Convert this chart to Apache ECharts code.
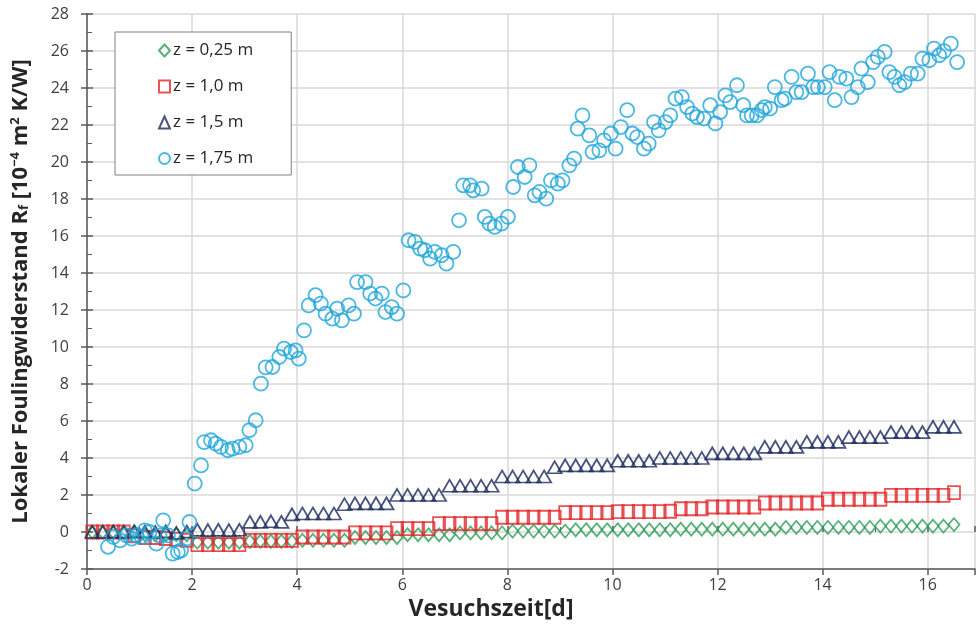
<!DOCTYPE html>
<html>
<head>
<meta charset="utf-8">
<script src="https://cdn.jsdelivr.net/npm/echarts@6/dist/echarts.min.js"></script>
<style>
  html, body { margin: 0; padding: 0; background: #fff; }
  #chart { width: 978px; height: 637px; }
</style>
</head>
<body>
<div id="chart"></div>
<script>
// Sampling times (days) shared by the three lower positions
const tDays = [
  0.1, 0.3, 0.5, 0.7, 0.9, 1.1, 1.3, 1.5, 1.7, 1.9,
  2.1, 2.3, 2.5, 2.7, 2.9, 3.1, 3.3, 3.5, 3.7, 3.9,
  4.1, 4.3, 4.5, 4.7, 4.9, 5.1, 5.3, 5.5, 5.7, 5.9,
  6.1, 6.3, 6.5, 6.7, 6.9, 7.1, 7.3, 7.5, 7.7, 7.9,
  8.1, 8.3, 8.5, 8.7, 8.9, 9.1, 9.3, 9.5, 9.7, 9.9,
  10.1, 10.3, 10.5, 10.7, 10.9, 11.1, 11.3, 11.5, 11.7, 11.9,
  12.1, 12.3, 12.5, 12.7, 12.9, 13.1, 13.3, 13.5, 13.7, 13.9,
  14.1, 14.3, 14.5, 14.7, 14.9, 15.1, 15.3, 15.5, 15.7, 15.9,
  16.1, 16.3, 16.5
];

// Rf at z = 0,25 m
const rf025 = [
  0.0, 0.0, 0.0, 0.0, 0.0, -0.15, -0.15, -0.15, -0.15, -0.15,
  -0.55, -0.55, -0.55, -0.55, -0.55, -0.5, -0.5, -0.5, -0.5, -0.5,
  -0.45, -0.45, -0.45, -0.45, -0.45, -0.3, -0.3, -0.3, -0.3, -0.3,
  -0.15, -0.15, -0.15, -0.15, -0.15, -0.05, -0.05, -0.05, -0.05, -0.05,
  0.05, 0.05, 0.05, 0.05, 0.05, 0.05, 0.12, 0.12, 0.12, 0.12,
  0.12, 0.12, 0.12, 0.12, 0.12, 0.12, 0.15, 0.15, 0.15, 0.15,
  0.15, 0.15, 0.15, 0.15, 0.15, 0.15, 0.25, 0.25, 0.25, 0.25,
  0.25, 0.25, 0.25, 0.25, 0.25, 0.32, 0.32, 0.32, 0.32, 0.32,
  0.32, 0.32, 0.4
];

// Rf at z = 1,0 m
const rf100 = [
  0.0, 0.0, 0.0, 0.0, -0.2, -0.3, -0.3, -0.35, -0.4, -0.45,
  -0.68, -0.68, -0.68, -0.68, -0.68, -0.45, -0.45, -0.45, -0.45, -0.45,
  -0.27, -0.27, -0.27, -0.27, -0.27, -0.05, -0.05, -0.05, -0.05, 0.18,
  0.18, 0.18, 0.18, 0.45, 0.45, 0.45, 0.45, 0.45, 0.45, 0.8,
  0.8, 0.8, 0.8, 0.8, 0.8, 1.05, 1.05, 1.05, 1.05, 1.05,
  1.1, 1.1, 1.1, 1.1, 1.1, 1.12, 1.26, 1.26, 1.26, 1.35,
  1.35, 1.35, 1.35, 1.35, 1.57, 1.57, 1.57, 1.57, 1.57, 1.57,
  1.77, 1.77, 1.77, 1.77, 1.77, 1.77, 1.98, 1.98, 1.98, 1.98,
  1.98, 1.98, 2.13
];

// Rf at z = 1,5 m
const rf150 = [
  0.0, 0.0, 0.02, 0.0, 0.03, 0.02, 0.0, 0.03, -0.05, 0.02,
  0.12, 0.1, 0.12, 0.1, 0.12, 0.55, 0.55, 0.58, 0.55, 0.95,
  1.0, 1.0, 1.0, 1.0, 1.5, 1.55, 1.55, 1.55, 1.55, 2.0,
  2.0, 2.0, 2.0, 2.0, 2.5, 2.5, 2.5, 2.5, 2.5, 3.0,
  3.0, 3.0, 3.0, 3.0, 3.5, 3.6, 3.6, 3.6, 3.6, 3.6,
  3.85, 3.85, 3.85, 3.85, 4.0, 4.0, 4.0, 4.0, 4.0, 4.25,
  4.25, 4.25, 4.25, 4.25, 4.6, 4.6, 4.6, 4.6, 4.87, 4.87,
  4.87, 4.87, 5.13, 5.13, 5.13, 5.13, 5.4, 5.4, 5.4, 5.4,
  5.68, 5.68, 5.68
];

// Rf at z = 1,75 m (own sampling times)
const t175 = [
  0.4, 0.5, 0.63, 0.75, 0.85, 0.94, 1.04, 1.1, 1.19, 1.32,
  1.38, 1.45, 1.54, 1.63, 1.73, 1.79, 1.89, 1.95, 2.05, 2.17,
  2.23, 2.36, 2.45, 2.55, 2.68, 2.77, 2.9, 3.02, 3.09, 3.21,
  3.31, 3.4, 3.53, 3.66, 3.75, 3.88, 3.97, 4.03, 4.13, 4.22,
  4.35, 4.45, 4.54, 4.67, 4.76, 4.85, 4.98, 5.08, 5.14, 5.3,
  5.39, 5.49, 5.61, 5.68, 5.8, 5.9, 6.02, 6.12, 6.24, 6.34,
  6.43, 6.53, 6.62, 6.75, 6.84, 6.97, 7.08, 7.16, 7.29, 7.35,
  7.51, 7.57, 7.66, 7.76, 7.89, 8.01, 8.11, 8.2, 8.33, 8.42,
  8.52, 8.61, 8.74, 8.83, 8.96, 9.05, 9.18, 9.27, 9.34, 9.43,
  9.56, 9.62, 9.75, 9.84, 9.97, 10.06, 10.16, 10.28, 10.38, 10.47,
  10.6, 10.69, 10.79, 10.88, 11.01, 11.1, 11.2, 11.32, 11.42, 11.52,
  11.61, 11.74, 11.86, 11.96, 12.05, 12.15, 12.24, 12.37, 12.49, 12.56,
  12.65, 12.75, 12.84, 12.9, 13.0, 13.09, 13.22, 13.28, 13.41, 13.5,
  13.6, 13.72, 13.82, 13.91, 14.04, 14.13, 14.23, 14.32, 14.45, 14.55,
  14.67, 14.74, 14.86, 14.96, 15.05, 15.18, 15.27, 15.37, 15.46, 15.56,
  15.68, 15.81, 15.9, 16.03, 16.12, 16.22, 16.31, 16.44, 16.56
];
const rf175 = [
  -0.8, -0.27, -0.45, -0.18, -0.36, -0.18, -0.27, 0.09, 0.0, -0.63,
  -0.18, 0.63, -0.18, -1.17, -1.08, -0.99, -0.36, 0.54, 2.62, 3.6,
  4.86, 4.96, 4.78, 4.6, 4.42, 4.51, 4.6, 4.69, 5.5, 6.04,
  8.02, 8.9, 8.92, 9.46, 9.91, 9.73, 9.82, 9.37, 10.9, 12.25,
  12.8, 12.35, 11.8, 11.53, 12.07, 11.44, 12.25, 11.8, 13.51, 13.51,
  12.89, 12.62, 12.89, 11.89, 12.16, 11.8, 13.06, 15.77, 15.68, 15.32,
  15.23, 14.78, 15.14, 14.96, 14.51, 15.14, 16.85, 18.74, 18.74, 18.47,
  18.56, 17.03, 16.67, 16.49, 16.67, 17.03, 18.65, 19.73, 19.19, 19.82,
  18.2, 18.38, 18.02, 19.01, 18.83, 19.01, 19.82, 20.18, 21.8, 22.52,
  21.44, 20.54, 20.63, 21.17, 21.54, 20.72, 21.89, 22.8, 21.54, 21.35,
  20.72, 20.99, 22.16, 21.71, 22.16, 22.52, 23.43, 23.51, 22.97, 22.62,
  22.43, 22.35, 23.07, 22.08, 22.7, 23.6, 23.24, 24.15, 23.07, 22.52,
  22.52, 22.52, 22.8, 22.97, 22.89, 24.05, 23.34, 23.43, 24.6, 23.78,
  23.78, 24.78, 24.05, 24.05, 24.05, 24.86, 23.34, 24.6, 24.51, 23.51,
  24.05, 25.05, 24.32, 25.4, 25.68, 25.95, 24.86, 24.6, 24.15, 24.32,
  24.78, 24.78, 25.59, 25.5, 26.13, 25.77, 25.99, 26.4, 25.4
];

const seriesNames = ['z = 0,25 m', 'z = 1,0 m', 'z = 1,5 m', 'z = 1,75 m'];

function pairs(xs, ys) {
  return xs.map((x, i) => [x, ys[i]]);
}

const FONT = '"Open Sans", "Noto Sans", sans-serif';
const TXT = '#404040';
const TITLE = '#262626';
const AXIS = '#595959';

function hollow(color) {
  return { color: 'rgba(0,0,0,0)', borderColor: color, borderWidth: 1.8 };
}

// Only even days get a label; the open right end stays unlabelled
function evenLabel(v) {
  return Math.abs(v % 2) < 1e-9 ? String(v) : '';
}

// Secondary axis that only draws the inward half of the ticks,
// so the major ticks cross the axis line
function innerTicks(base) {
  return Object.assign({}, base, {
    name: '',
    axisLine: { show: false },
    axisLabel: { show: false },
    splitLine: { show: false },
    axisTick: { show: true, inside: true, length: 6, lineStyle: { color: AXIS, width: 1.5 } },
    minorTick: { show: true, splitNumber: 2, length: 5, lineStyle: { color: AXIS, width: 1 } }
  });
}

const xBase = { type: 'value', min: 0, max: 16.9, interval: 2, position: 'bottom' };
const yBase = { type: 'value', min: -2, max: 28, interval: 2, position: 'left' };

const chart = echarts.init(document.getElementById('chart'), null, { renderer: 'canvas' });

chart.setOption({
  backgroundColor: '#ffffff',
  animation: false,
  textStyle: { fontFamily: FONT },
  grid: { left: 87, right: 0, top: 14, bottom: 68, containLabel: false },
  legend: {
    orient: 'vertical',
    left: 115,
    top: 32,
    padding: [10, 38, 8, 43],
    itemGap: 19,
    itemWidth: 11,
    itemHeight: 12,
    backgroundColor: '#ffffff',
    borderColor: '#808080',
    borderWidth: 1,
    borderRadius: 0,
    textStyle: { fontFamily: FONT, fontSize: 17, color: TITLE, padding: [0, 0, 0, -2] },
    data: seriesNames
  },
  xAxis: [
    Object.assign({}, xBase, {
      name: 'Vesuchszeit[d]',
      nameLocation: 'middle',
      nameGap: 25,
      nameTextStyle: { fontFamily: FONT, fontSize: 23, fontWeight: 'bold', color: TITLE, padding: [0, 80, 0, 0] },
      axisLine: { show: true, onZero: false, lineStyle: { color: AXIS, width: 1.5 } },
      axisTick: { show: true, length: 6, lineStyle: { color: AXIS, width: 1.5 } },
      minorTick: { show: false },
      axisLabel: { fontFamily: FONT, fontSize: 16, color: TXT, margin: 8, formatter: evenLabel },
      splitLine: { show: true, lineStyle: { color: '#d9d9d9', width: 1.5 } }
    }),
    innerTicks(xBase)
  ],
  yAxis: [
    Object.assign({}, yBase, {
      name: '{t|Lokaler Foulingwiderstand R}{sub|f}{t| [10}{sup|−4}{t| m}{sup|2}{t| K/W]}',
      nameLocation: 'middle',
      nameGap: 55,
      nameRotate: 90,
      nameTextStyle: {
        rich: {
          t: { fontFamily: FONT, fontSize: 22, fontWeight: 'bold', color: TITLE },
          sub: { fontFamily: FONT, fontSize: 13, fontWeight: 'bold', color: TITLE, padding: [8, 0, 0, 0] },
          sup: { fontFamily: FONT, fontSize: 13, fontWeight: 'bold', color: TITLE, padding: [0, 0, 10, 0] }
        }
      },
      axisLine: { show: true, onZero: false, lineStyle: { color: AXIS, width: 1.5 } },
      axisTick: { show: true, length: 6, lineStyle: { color: AXIS, width: 1.5 } },
      minorTick: { show: false },
      axisLabel: { fontFamily: FONT, fontSize: 16, color: TXT, margin: 18 },
      splitLine: { show: true, lineStyle: { color: '#d9d9d9', width: 1.5 } }
    }),
    innerTicks(yBase)
  ],
  series: [
    {
      name: seriesNames[0], type: 'scatter', symbol: 'diamond', symbolSize: [11, 13],
      itemStyle: hollow('#2e9e57'), data: pairs(tDays, rf025)
    },
    {
      name: seriesNames[1], type: 'scatter', symbol: 'rect', symbolSize: [12, 13],
      itemStyle: hollow('#e3262b'), data: pairs(tDays, rf100)
    },
    {
      name: seriesNames[2], type: 'scatter', symbol: 'triangle', symbolSize: [14, 12],
      itemStyle: hollow('#1b2a5e'), data: pairs(tDays, rf150)
    },
    {
      name: seriesNames[3], type: 'scatter', symbol: 'circle', symbolSize: 14,
      itemStyle: hollow('#1fa6db'), data: pairs(t175, rf175)
    }
  ]
});
</script>
</body>
</html>
